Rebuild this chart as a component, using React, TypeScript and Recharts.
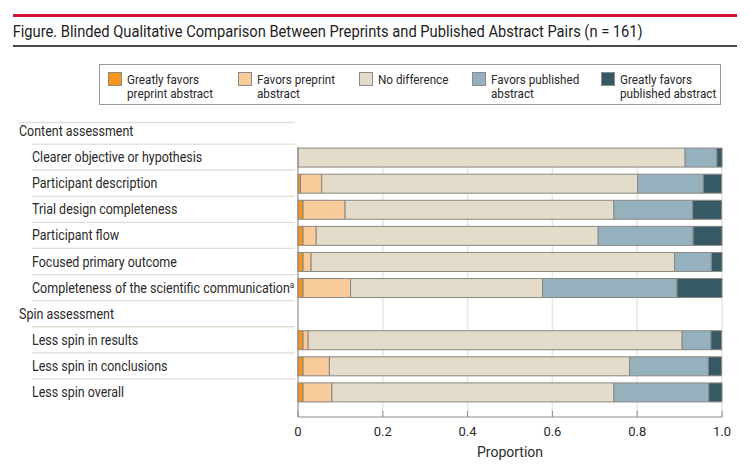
import React from 'react';
import { BarChart, Bar, XAxis, YAxis, CartesianGrid } from 'recharts';

// rows of the figure, headers included (they carry no bars)
const CATEGORIES = [
  'Content assessment',
  'Clearer objective or hypothesis',
  'Participant description',
  'Trial design completeness',
  'Participant flow',
  'Focused primary outcome',
  'Completeness of the scientific communication',
  'Spin assessment',
  'Less spin in results',
  'Less spin in conclusions',
  'Less spin overall',
];
const HEADERS = ['Content assessment', 'Spin assessment'];
const FOOTNOTED = ['Completeness of the scientific communication'];

// proportions (n = 161), null for header rows
const GREATLY_PREPRINT = [null, 0, 0.006, 0.012, 0.012, 0.012, 0.012, null, 0.012, 0.012, 0.012];
const FAVORS_PREPRINT = [null, 0, 0.05, 0.099, 0.031, 0.019, 0.112, null, 0.012, 0.062, 0.068];
const NO_DIFFERENCE = [null, 0.913, 0.745, 0.634, 0.665, 0.857, 0.453, null, 0.882, 0.708, 0.665];
const FAVORS_PUBLISHED = [null, 0.075, 0.155, 0.186, 0.224, 0.087, 0.317, null, 0.068, 0.186, 0.224];
const GREATLY_PUBLISHED = [null, 0.012, 0.043, 0.068, 0.068, 0.025, 0.106, null, 0.025, 0.031, 0.031];

const X_TICKS = [0, 0.2, 0.4, 0.6, 0.8, 1.0];

const SERIES = [
  { key: 'greatlyPreprint', values: GREATLY_PREPRINT, color: '#f5961a', label: ['Greatly favors', 'preprint abstract'] },
  { key: 'favorsPreprint', values: FAVORS_PREPRINT, color: '#f9cb9a', label: ['Favors preprint', 'abstract'] },
  { key: 'noDifference', values: NO_DIFFERENCE, color: '#e3dcca', label: ['No difference'] },
  { key: 'favorsPublished', values: FAVORS_PUBLISHED, color: '#95b1be', label: ['Favors published', 'abstract'] },
  { key: 'greatlyPublished', values: GREATLY_PUBLISHED, color: '#375865', label: ['Greatly favors', 'published abstract'] },
];

const data = CATEGORIES.map((name, i) => {
  const row: Record<string, any> = { name };
  SERIES.forEach((s) => {
    if (s.values[i] != null) row[s.key] = s.values[i];
  });
  return row;
});

const FONT = 'Roboto, "Noto Sans", sans-serif';
const TEXT = '#2a2a2a';
const ROW_H = 26.1;
const SEP = '#e1ddd4';
const LEGEND_W = [130, 121, 112.4, 129, 120];

const CatTick = (props: any) => {
  const { y, payload, index } = props;
  const name = payload.value as string;
  const header = HEADERS.includes(name);
  const last = index === CATEGORIES.length - 1;
  return (
    <g>
      {index === 0 && (
        <line x1={19} x2={295} y1={y - ROW_H / 2 + 4.5} y2={y - ROW_H / 2 + 4.5} stroke={SEP} strokeWidth={1.3} />
      )}
      <text
        transform={`translate(${header ? 19 : 32},${y + 5}) scale(0.89,1)`}
        fontSize={14}
        fontFamily={FONT}
        fill={TEXT}
      >
        {name}
        {FOOTNOTED.includes(name) && (
          <tspan fontSize={9} dy={-5}>a</tspan>
        )}
      </text>
      {!last && (
        <line x1={32} x2={295} y1={y + ROW_H / 2} y2={y + ROW_H / 2} stroke={SEP} strokeWidth={1.3} />
      )}
    </g>
  );
};

const XTick = (props: any) => {
  const { x, y, payload } = props;
  const v = payload.value as number;
  const label = v === 0 ? '0' : v.toFixed(1);
  return (
    <g>
      <line x1={x} x2={x} y1={y - 16} y2={y - 10} stroke="#8c8c8c" strokeWidth={1} />
      <text x={x} y={y + 9} textAnchor="middle" fontSize={13} fontFamily={FONT} fill={TEXT}>
        {label}
      </text>
    </g>
  );
};

export default function App() {
  return (
    <div style={{ position: 'absolute', left: 0, top: 0, width: 750, height: 464, background: '#fff', overflow: 'hidden' }}>
      <div style={{ position: 'absolute', left: 12.7, top: 14, width: 724, height: 3.3, background: '#d3142f' }} />
      <svg width={750} height={50} style={{ position: 'absolute', left: 0, top: 0 }}>
        <text x={12.7} y={36.7} fontSize={16} fontFamily={FONT} fill="#1e1e1e" textLength={630} lengthAdjust="spacingAndGlyphs">
          Figure. Blinded Qualitative Comparison Between Preprints and Published Abstract Pairs (n = 161)
        </text>
      </svg>
      <div style={{ position: 'absolute', left: 12.7, top: 45, width: 724, height: 1.5, background: '#4a4a4a' }} />

      <div
        style={{
          position: 'absolute', left: 99, top: 64, width: 622, height: 41,
          border: '1px solid #9a9a9a', boxSizing: 'border-box',
        }}
      >
        <div style={{ position: 'absolute', left: 8.3, top: 7.3, display: 'flex' }}>
          {SERIES.map((s, i) => (
            <div key={s.key} style={{ width: LEGEND_W[i], position: 'relative', height: 30 }}>
              <div
                style={{
                  position: 'absolute', left: 0, top: 0, width: 14, height: 14,
                  background: s.color, border: '1px solid #8a8a8a', boxSizing: 'border-box',
                }}
              />
              <div
                style={{
                  position: 'absolute', left: 19, top: 0.6, fontFamily: FONT, fontSize: 13,
                  lineHeight: '14px', color: TEXT, whiteSpace: 'nowrap',
                  transform: 'scaleX(0.9)', transformOrigin: 'left top',
                }}
              >
                {s.label.map((l) => (
                  <div key={l}>{l}</div>
                ))}
              </div>
            </div>
          ))}
        </div>
      </div>

      <div style={{ position: 'absolute', left: 0, top: 0 }}>
        <BarChart
          width={750}
          height={464}
          layout="vertical"
          data={data}
          margin={{ top: 118, right: 28, bottom: 0, left: 0 }}
          barSize={19}
        >
          <CartesianGrid horizontal={false} stroke="#e6e6e6" strokeWidth={1.5} strokeDasharray="0 29 400" />
          <XAxis
            type="number"
            domain={[0, 1]}
            ticks={X_TICKS}
            height={47}
            tickSize={0}
            tickMargin={10}
            tick={<XTick />}
            axisLine={{ stroke: '#8c8c8c' }}
            label={{ value: 'Proportion', position: 'insideBottom', offset: 7, fontSize: 14, fontFamily: FONT, fill: TEXT }}
          />
          <YAxis
            type="category"
            dataKey="name"
            width={298}
            interval={0}
            tickLine={false}
            tick={<CatTick />}
            axisLine={{ stroke: '#8c8c8c', strokeDasharray: '0 29 400' }}
            padding={{ top: 0, bottom: 12 }}
          />
          {SERIES.map((s) => (
            <Bar
              key={s.key}
              dataKey={s.key}
              stackId="a"
              fill={s.color}
              stroke="#8a8782"
              strokeWidth={1}
              isAnimationActive={false}
            />
          ))}
        </BarChart>
      </div>
    </div>
  );
}
